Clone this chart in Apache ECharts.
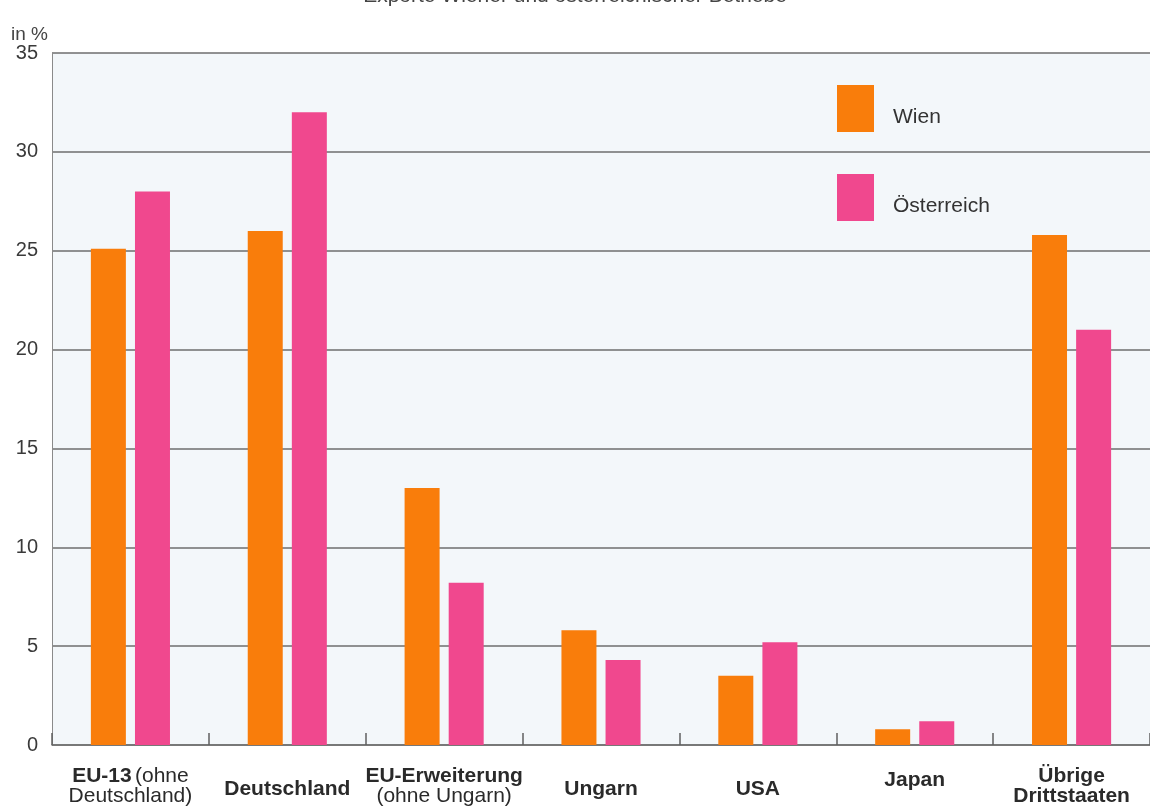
<!DOCTYPE html>
<html><head><meta charset="utf-8">
<script src="https://cdn.jsdelivr.net/npm/echarts@6/dist/echarts.min.js"></script>
<style>html,body{margin:0;padding:0;background:#fff}#c{width:1150px;height:808px}</style>
</head><body><div id="c"></div>
<script>
const categories = ["EU-13 (ohne Deutschland)", "Deutschland", "EU-Erweiterung (ohne Ungarn)", "Ungarn", "USA", "Japan", "Übrige Drittstaaten"];
const tickLabels = [
  "{b|EU-13} {n|(ohne}\n{n|Deutschland)}",
  "{s|Deutschland}",
  "{b|EU-Erweiterung}\n{n|(ohne Ungarn)}",
  "{s|Ungarn}",
  "{s|USA}",
  "{j|Japan}",
  "{b|Übrige}\n{b|Drittstaaten}"
];
const wien = [25.1, 26.0, 13.0, 5.8, 3.5, 0.8, 25.8];
const oesterreich = [28.0, 32.0, 8.2, 4.3, 5.2, 1.2, 21.0];
const yTicks = [0, 5, 10, 15, 20, 25, 30, 35];

const chart = echarts.init(document.getElementById('c'));
const FONT = '"Liberation Sans", Arial, sans-serif';
chart.setOption({
  animation: false,
  textStyle: { fontFamily: FONT },
  title: {
    text: 'Exporte Wiener und österreichischer Betriebe',
    left: 'center', top: -19,
    textStyle: { fontSize: 21, fontWeight: 'normal', color: '#444', fontFamily: FONT }
  },
  graphic: [{
    type: 'text', left: 11, top: 25,
    style: { text: 'in %', fontSize: 19, fill: '#444', fontFamily: FONT }
  }],
  legend: {
    orient: 'vertical', left: 837, top: 85, padding: 0,
    itemWidth: 37, itemHeight: 47, itemGap: 42,
    icon: 'rect',
    data: ['Wien', 'Österreich'],
    formatter: n => '\n' + n,
    textStyle: { fontSize: 21, lineHeight: 17, color: '#333', padding: [0, 0, 0, 14], fontFamily: FONT }
  },
  grid: {
    left: 52, top: 53, bottom: 63, right: -12,
    show: true, backgroundColor: '#f3f7fa', borderWidth: 0
  },
  xAxis: {
    type: 'category',
    data: categories,
    axisLine: { lineStyle: { color: '#707070', width: 1.5 } },
    axisTick: { show: true, inside: true, length: 12, lineStyle: { color: '#606060', width: 1.5 } },
    axisLabel: {
      interval: 0, margin: 21,
      formatter: (v, i) => tickLabels[i],
      rich: {
        b: { fontSize: 21, fontWeight: 'bold', color: '#2a2a2a', lineHeight: 20, fontFamily: FONT },
        n: { fontSize: 21, fontWeight: 'normal', color: '#2a2a2a', lineHeight: 20, fontFamily: FONT },
        s: { fontSize: 21, fontWeight: 'bold', color: '#2a2a2a', lineHeight: 46, fontFamily: FONT },
        j: { fontSize: 21, fontWeight: 'bold', color: '#2a2a2a', lineHeight: 28, fontFamily: FONT }
      }
    }
  },
  yAxis: {
    type: 'value', min: 0, max: 35, interval: 5,
    axisLine: { show: true, lineStyle: { color: '#8a8a8a', width: 1 } },
    axisTick: { show: false },
    axisLabel: {
      fontSize: 20, color: '#3a3a3a', margin: 14,
      formatter: v => yTicks.includes(v) ? String(v) : ''
    },
    splitLine: { lineStyle: { color: '#6e6e6e', width: 1.5 } }
  },
  series: [
    { name: 'Wien', type: 'bar', data: wien, barWidth: 35, barGap: '26%', itemStyle: { color: '#f97d0b' } },
    { name: 'Österreich', type: 'bar', data: oesterreich, barWidth: 35, itemStyle: { color: '#f0488e' } }
  ]
});
</script></body></html>
